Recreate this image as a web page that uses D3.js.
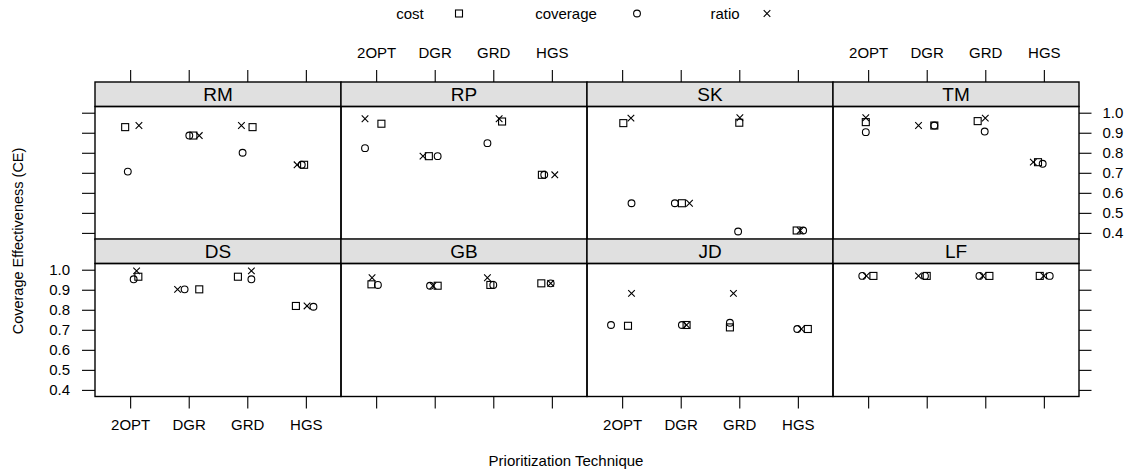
<!DOCTYPE html>
<html>
<head>
<meta charset="utf-8">
<script src="https://cdn.jsdelivr.net/npm/d3@7"></script>
<style>
body { margin: 0; background: #fff; }
text { font-family: "Liberation Sans", Arial, sans-serif; fill: #000; }
</style>
</head>
<body>
<div id="chart"></div>
<script>
var panels = ["RM", "RP", "SK", "TM", "DS", "GB", "JD", "LF"]
var techniques = ["2OPT", "DGR", "GRD", "HGS"]
var yTicks = [0.4, 0.5, 0.6, 0.7, 0.8, 0.9, 1.0]

// values per panel, in technique order
var costValues = [
  [0.928, 0.886, 0.928, 0.740],
  [0.945, 0.783, 0.956, 0.690],
  [0.948, 0.548, 0.950, 0.412],
  [0.953, 0.936, 0.958, 0.753],
  [0.965, 0.902, 0.965, 0.819],
  [0.927, 0.920, 0.924, 0.932],
  [0.720, 0.724, 0.712, 0.704],
  [0.969, 0.969, 0.969, 0.969]
]
var coverageValues = [
  [0.706, 0.886, 0.800, 0.740],
  [0.823, 0.783, 0.848, 0.690],
  [0.548, 0.548, 0.407, 0.412],
  [0.903, 0.936, 0.906, 0.745],
  [0.952, 0.902, 0.952, 0.815],
  [0.924, 0.920, 0.924, 0.932],
  [0.724, 0.724, 0.735, 0.704],
  [0.969, 0.969, 0.969, 0.969]
]
var ratioValues = [
  [0.936, 0.886, 0.936, 0.740],
  [0.970, 0.783, 0.970, 0.690],
  [0.973, 0.548, 0.975, 0.412],
  [0.975, 0.936, 0.973, 0.753],
  [0.994, 0.902, 0.994, 0.819],
  [0.960, 0.920, 0.960, 0.932],
  [0.882, 0.724, 0.882, 0.704],
  [0.969, 0.969, 0.969, 0.969]
]
// horizontal jitter (in category units)
var costJitter = [
  [-0.085, 0.08, 0.09, -0.03],
  [0.09, -0.1, 0.15, -0.17],
  [0.02, 0.02, 0, -0.02],
  [-0.04, 0.13, -0.13, -0.1],
  [0.14, 0.18, -0.16, -0.17],
  [-0.08, 0.05, -0.05, -0.18],
  [0.1, 0.1, -0.16, 0.17],
  [0.09, 0, 0.07, -0.07]
]
var coverageJitter = [
  [-0.04, 0.01, -0.08, -0.07],
  [-0.19, 0.05, -0.1, -0.13],
  [0.16, -0.1, -0.02, 0.09],
  [-0.04, 0.13, -0.01, -0.02],
  [0.06, -0.07, 0.07, 0.13],
  [0.03, -0.08, 0, -0.02],
  [-0.19, 0.02, -0.16, -0.01],
  [-0.1, -0.03, -0.1, 0.1]
]
var ratioJitter = [
  [0.15, 0.18, -0.1, -0.15],
  [-0.19, -0.2, 0.1, 0.05],
  [0.15, 0.15, 0.01, 0.04],
  [-0.04, -0.14, 0, -0.18],
  [0.11, -0.19, 0.07, 0.02],
  [-0.07, -0.03, -0.1, -0.02],
  [0.16, 0.1, -0.1, 0.06],
  [-0.03, -0.14, -0.04, 0]
]

var series = [
  {name: "cost", shape: "square", values: costValues, jitter: costJitter},
  {name: "coverage", shape: "circle", values: coverageValues, jitter: coverageJitter},
  {name: "ratio", shape: "cross", values: ratioValues, jitter: ratioJitter}
]

var width = 1132, height = 476
var left = 95, panelW = 246
var stripH = 24.5, panelH = 133
var rowTop = [82, 239]

var svg = d3.select("#chart").append("svg")
  .attr("width", width)
  .attr("height", height)

// x: factor positions 1..4 with lattice padding
var x = d3.scaleLinear().domain([0.4, 4.6]).range([0, panelW])

var drawMarker = function(g, shape, cx, cy){
  if (shape == "square"){
    g.append("rect").attr("x", cx - 3.5).attr("y", cy - 3.5)
      .attr("width", 7).attr("height", 7)
      .attr("fill", "none").attr("stroke", "#000").attr("stroke-width", 1.1)
  } else if (shape == "circle"){
    g.append("circle").attr("cx", cx).attr("cy", cy).attr("r", 3.4)
      .attr("fill", "none").attr("stroke", "#000").attr("stroke-width", 1.1)
  } else {
    var s = 3.3
    g.append("path")
      .attr("d", "M" + (cx - s) + "," + (cy - s) + "L" + (cx + s) + "," + (cy + s) +
                 "M" + (cx - s) + "," + (cy + s) + "L" + (cx + s) + "," + (cy - s))
      .attr("stroke", "#000").attr("stroke-width", 1.1)
  }
}

panels.forEach(function(name, p){
  var row = Math.floor(p / 4), col = p % 4
  var px = left + col * panelW
  var stripY = rowTop[row]
  var py = stripY + stripH

  var y = d3.scaleLinear().domain([0.367, 1.031]).range([py + panelH, py])

  var g = svg.append("g").attr("transform", "translate(" + px + ",0)")

  // strip
  g.append("rect").attr("x", 0).attr("y", stripY)
    .attr("width", panelW).attr("height", stripH)
    .attr("fill", "#e0e0e0").attr("stroke", "#000").attr("stroke-width", 1.4)
  g.append("text").attr("x", panelW / 2).attr("y", stripY + stripH / 2 + 7)
    .attr("text-anchor", "middle").style("font-size", "19px").text(name)

  // panel
  g.append("rect").attr("x", 0).attr("y", py)
    .attr("width", panelW).attr("height", panelH)
    .attr("fill", "none").attr("stroke", "#000").attr("stroke-width", 1.4)

  // points
  var pts = g.append("g")
  series.forEach(function(s){
    techniques.forEach(function(t, i){
      drawMarker(pts, s.shape, x(i + 1 + s.jitter[p][i]), y(s.values[p][i]))
    })
  })

  // x axes: top on the first row, bottom on the second
  if (row == 0){
    var top = d3.axisTop(x).tickValues([1, 2, 3, 4]).tickSize(12).tickSizeOuter(0)
      .tickPadding(12)
      .tickFormat(function(d){ return col % 2 == 1 ? techniques[d - 1] : "" })
    g.append("g").attr("class", "axis").attr("transform", "translate(0," + stripY + ")").call(top)
  } else {
    var bottom = d3.axisBottom(x).tickValues([1, 2, 3, 4]).tickSize(12).tickSizeOuter(0)
      .tickPadding(11)
      .tickFormat(function(d){ return col % 2 == 0 ? techniques[d - 1] : "" })
    g.append("g").attr("class", "axis").attr("transform", "translate(0," + (py + panelH) + ")").call(bottom)
  }

  // y axes: left on the first column, right on the last
  if (col == 0){
    var la = d3.axisLeft(y).tickValues(yTicks).tickSize(13).tickSizeOuter(0).tickPadding(12)
      .tickFormat(function(d){ return row == 1 ? d3.format(".1f")(d) : "" })
    g.append("g").attr("class", "axis").call(la)
  }
  if (col == 3){
    var ra = d3.axisRight(y).tickValues(yTicks).tickSize(12.5).tickSizeOuter(0).tickPadding(11)
      .tickFormat(function(d){ return row == 0 ? d3.format(".1f")(d) : "" })
    g.append("g").attr("class", "axis").attr("transform", "translate(" + panelW + ",0)").call(ra)
  }
})

svg.selectAll(".axis .domain").remove()
svg.selectAll(".axis line").attr("stroke", "#000").attr("stroke-width", 1.1)
svg.selectAll(".axis text")
  .style("font-size", "15px")
  .style("font-family", "'Liberation Sans', Arial, sans-serif")
  .attr("fill", "#000")

// legend
var legendText = [{x: 410, label: "cost"}, {x: 566, label: "coverage"}, {x: 725, label: "ratio"}]
var legendMark = [459, 637, 767]
series.forEach(function(s, i){
  svg.append("text").attr("x", legendText[i].x).attr("y", 19)
    .attr("text-anchor", "middle").style("font-size", "15px").text(s.name)
  drawMarker(svg, s.shape, legendMark[i], 13.5)
})

// axis titles
svg.append("text").attr("x", 566).attr("y", 466)
  .attr("text-anchor", "middle").style("font-size", "15px")
  .text("Prioritization Technique")
svg.append("text")
  .attr("transform", "translate(23,241) rotate(-90)")
  .attr("text-anchor", "middle").style("font-size", "14.5px")
  .text("Coverage Effectiveness (CE)")
</script>
</body>
</html>
